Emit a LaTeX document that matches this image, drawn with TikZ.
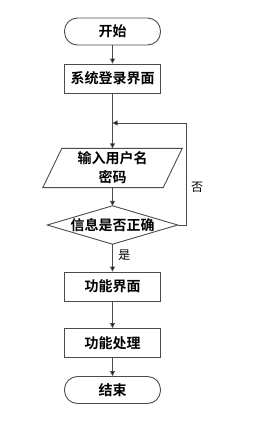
\documentclass[tikz,border=0pt]{standalone}
\usepackage{fontspec}
\setmainfont{Noto Sans CJK SC}[BoldFont={Noto Sans CJK SC Bold}]
\usepackage{tikz}
\usetikzlibrary{positioning, arrows.meta}

\tikzset{
    ln/.style={draw=black!70, line width=0.9pt},
    arr/.style={ln, -{Triangle[length=5pt, width=5pt, fill=black]}},
    term/.style={ln, rounded corners=13pt, minimum width=96pt, minimum height=27pt, font=\fontsize{14}{16}\selectfont\bfseries},
    proc/.style={ln, minimum width=96pt, minimum height=29pt, font=\fontsize{14}{16}\selectfont\bfseries},
    lab/.style={font=\fontsize{12}{14}\selectfont}
}

\begin{document}
\begin{tikzpicture}[x=1pt, y=-1pt]
    \useasboundingbox (0,0) rectangle (253,423);

    % Caixes
    \node[term] (start) at (112.5,31.5) {开始};
    \node[proc] (login) at (112.5,78.5) {系统登录界面};
    \node[minimum width=120pt, minimum height=38pt, align=center,
          font=\fontsize{14}{19}\selectfont\bfseries] (input) at (112.5,168) {输入用户名\\密码};
    \node[minimum width=130pt, minimum height=38pt,
          font=\fontsize{14}{16}\selectfont\bfseries] (check) at (112.5,225) {信息是否正确};
    \node[proc] (func) at (112.5,286.5) {功能界面};
    \node[proc] (work) at (112.5,343) {功能处理};
    \node[term] (stop) at (112.5,390) {结束};

    % Paral·lelogram i rombe
    \draw[ln] ([xshift=9.5pt]input.north west) -- ([xshift=9.5pt]input.north east)
        -- ([xshift=-9.5pt]input.south east) -- ([xshift=-9.5pt]input.south west) -- cycle;
    \draw[ln] (check.west) -- (check.north) -- (check.east) -- (check.south) -- cycle;

    % Fletxes
    \coordinate (back) at (112.5,123);
    \draw[arr] (start) -- (login);
    \draw[arr] (login) -- (input);
    \draw[arr] (input) -- (check.north);
    \draw[arr] (check.east) -- ++(9,0) |- (back);
    \draw[arr] (check.south) -- (func) node[lab, pos=0.4, right=2pt] {是};
    \draw[arr] (func) -- (work);
    \draw[arr] (work) -- (stop);
    \node[lab] (no) at (197,187) {否};
\end{tikzpicture}
\end{document}
